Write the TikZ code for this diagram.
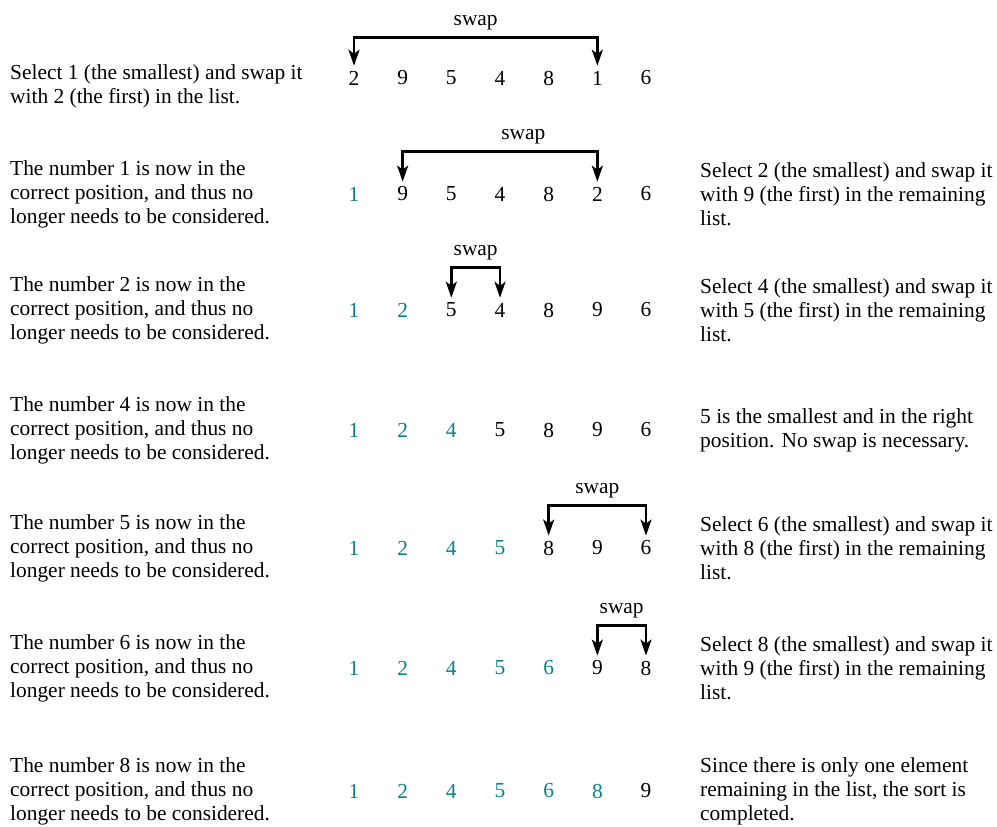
\documentclass[tikz,border=0pt]{standalone}
\usepackage{fontspec}
\setmainfont{Liberation Serif}
\usepackage{tikz}
\usetikzlibrary{arrows.meta,positioning,calc}
\definecolor{sortedteal}{RGB}{10,128,138}

\begin{document}
\begin{tikzpicture}[
    x=1pt, y=-1pt,
    % --- STYLES ---
    num/.style={inner sep=0pt, font=\fontsize{21.4}{24}\selectfont},
    note/.style={
        anchor=west, align=left,
        inner sep=0pt,
        font=\fontsize{21.4}{24}\selectfont
    },
    swaparrow/.style={<->, line width=2.6pt, >={Stealth[length=16pt,width=11pt,inset=4pt]},
        shorten <=5pt, shorten >=5pt},
    swaplabel/.style={above=6pt, inner sep=0pt, font=\fontsize{21.4}{24}\selectfont}
]

\useasboundingbox (0,0) rectangle (997,827);

% ===== 1. NUMBER ROWS =====
\foreach \row/\yy/\k/\vals in {
    1/78/0/{2,9,5,4,8,1,6},
    2/194/1/{1,9,5,4,8,2,6},
    3/310/2/{1,2,5,4,8,9,6},
    4/430/3/{1,2,4,5,8,9,6},
    5/548/4/{1,2,4,5,8,9,6},
    6/668/5/{1,2,4,5,6,9,8},
    7/791/6/{1,2,4,5,6,8,9}}{
    \foreach \v [count=\c] in \vals {
        \ifnum\c>\k \colorlet{cur}{black}\else\colorlet{cur}{sortedteal}\fi
        \node[num, text=cur] (r\row c\c) at ({354+(\c-1)*48.67}, \yy) {\v};
    }
}

% ===== 2. LEFT NOTES =====
\node[note] (left1) at (10,86) {Select 1 (the smallest) and swap it\\ with 2 (the first) in the list.};
\foreach \row/\yy/\n in {2/194/1, 3/310/2, 4/430/4, 5/548/5, 6/668/6, 7/791/8}{
    \node[note] (left\row) at (10,\yy) {The number \n\ is now in the\\ correct position, and thus no\\ longer needs to be considered.};
}

% ===== 3. RIGHT NOTES =====
\node[note] (right2) at (700,194) {Select 2 (the smallest) and swap it\\ with 9 (the first) in the remaining\\ list.};
\node[note] (right3) at (700,310) {Select 4 (the smallest) and swap it\\ with 5 (the first) in the remaining\\ list.};
\node[note] (right4) at (700,430) {5 is the smallest and in the right\\ position. No swap is necessary.};
\node[note] (right5) at (700,548) {Select 6 (the smallest) and swap it\\ with 8 (the first) in the remaining\\ list.};
\node[note] (right6) at (700,668) {Select 8 (the smallest) and swap it\\ with 9 (the first) in the remaining\\ list.};
\node[note] (right7) at (700,791) {Since there is only one element\\ remaining in the list, the sort is\\ completed.};

% ===== 4. SWAPS =====
\draw[swaparrow] (r1c1.north) -- ++(0,-33) -| (r1c6.north) node[swaplabel, pos=0.25] {swap};
\draw[swaparrow] (r2c2.north) -- ++(0,-35) -| (r2c6.north) node[swaplabel, pos=0.31] {swap};
\draw[swaparrow] (r3c3.north) -- ++(0,-35) -| (r3c4.north) node[swaplabel, pos=0.25] {swap};
\draw[swaparrow] (r5c5.north) -- ++(0,-35) -| (r5c7.north) node[swaplabel, pos=0.25] {swap};
\draw[swaparrow] (r6c6.north) -- ++(0,-35) -| (r6c7.north) node[swaplabel, pos=0.25] {swap};

\end{tikzpicture}
\end{document}
